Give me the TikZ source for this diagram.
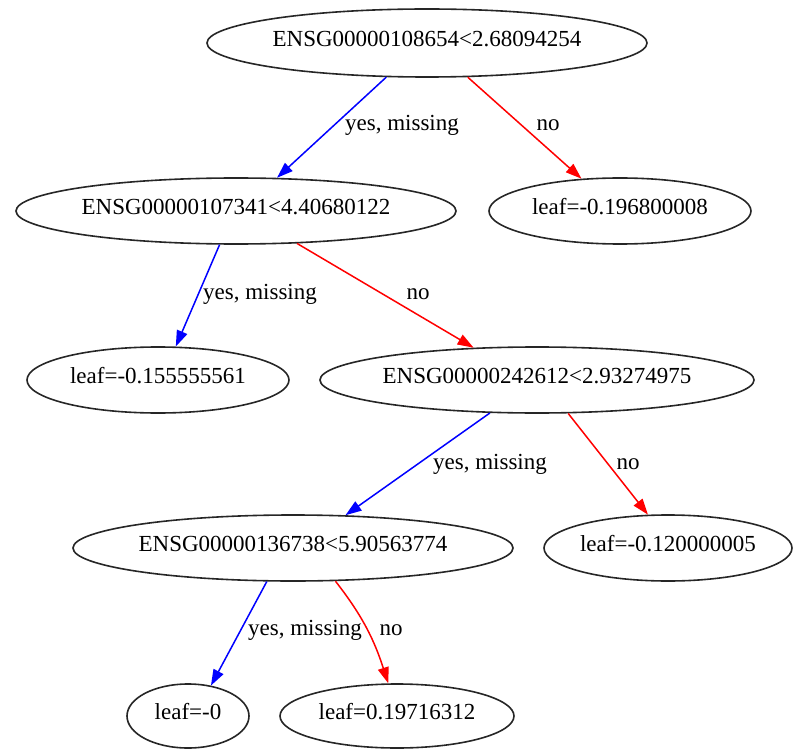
\documentclass[tikz,border=0pt]{standalone}
\usepackage{fontspec}
\setmainfont{Liberation Serif}
\usetikzlibrary{shapes.geometric,arrows.meta}
\newcommand{\ctext}[1]{\makebox[0pt][c]{#1}}
\begin{document}
\begin{tikzpicture}[x=1pt,y=-1pt,
  every node/.style={font=\fontsize{23}{27}\selectfont},
  tnode/.style={ellipse,draw=black!85,line width=1.6pt,inner sep=0pt,text height=0.68em,text depth=0pt},
  lbl/.style={inner sep=0pt,text height=0.68em,text depth=0.2em},
  yesedge/.style={draw=blue,line width=1.5pt,-{Triangle[length=16pt,width=11pt]}},
  noedge/.style={draw=red,line width=1.5pt,-{Triangle[length=16pt,width=11pt]}}]
\useasboundingbox (0,0) rectangle (797,751);
\node[tnode,minimum width=440pt,minimum height=68pt] (n1) at (427,43) {\ctext{ENSG00000108654<2.68094254}};
\node[tnode,minimum width=440pt,minimum height=66pt] (n2) at (236,211) {\ctext{ENSG00000107341<4.40680122}};
\node[tnode,minimum width=262pt,minimum height=66pt] (n3) at (620,211) {\ctext{leaf=-0.196800008}};
\node[tnode,minimum width=262pt,minimum height=66pt] (n4) at (158,380) {\ctext{leaf=-0.155555561}};
\node[tnode,minimum width=434pt,minimum height=66pt] (n5) at (537,380) {\ctext{ENSG00000242612<2.93274975}};
\node[tnode,minimum width=440pt,minimum height=66pt] (n6) at (293,548) {\ctext{ENSG00000136738<5.90563774}};
\node[tnode,minimum width=248pt,minimum height=66pt] (n7) at (668,548) {\ctext{leaf=-0.120000005}};
\node[tnode,minimum width=122pt,minimum height=64pt] (n8) at (188,716) {\ctext{leaf=-0}};
\node[tnode,minimum width=234pt,minimum height=64pt] (n9) at (397,716) {\ctext{leaf=0.19716312}};

\path[yesedge] (n1.220.7) -- (n2.39.8);
\path[noedge] (n1.320.1) -- (n3.140.3);
\path[yesedge] (n2.244.1) -- (n4.62.5);
\path[noedge] (n2.332.5) -- (n5.153);
\path[yesedge] (n5.215.7) -- (n6.32.7);
\path[noedge] (n5.313.5) -- (n7.121.5);
\path[yesedge] (n6.232.7) -- (n8.53.6);
\path[noedge] (n6.322.4) to[out=-52,in=108] (n9.105.7);

\node[lbl] (l12) at (402,128) {yes, missing};
\node[lbl] (l13) at (548,128) {no};
\node[lbl] (l24) at (260,297) {yes, missing};
\node[lbl] (l25) at (418,297) {no};
\node[lbl] (l56) at (490,467) {yes, missing};
\node[lbl] (l57) at (628,467) {no};
\node[lbl] (l68) at (305,633) {yes, missing};
\node[lbl] (l69) at (391,633) {no};
\end{tikzpicture}
\end{document}
